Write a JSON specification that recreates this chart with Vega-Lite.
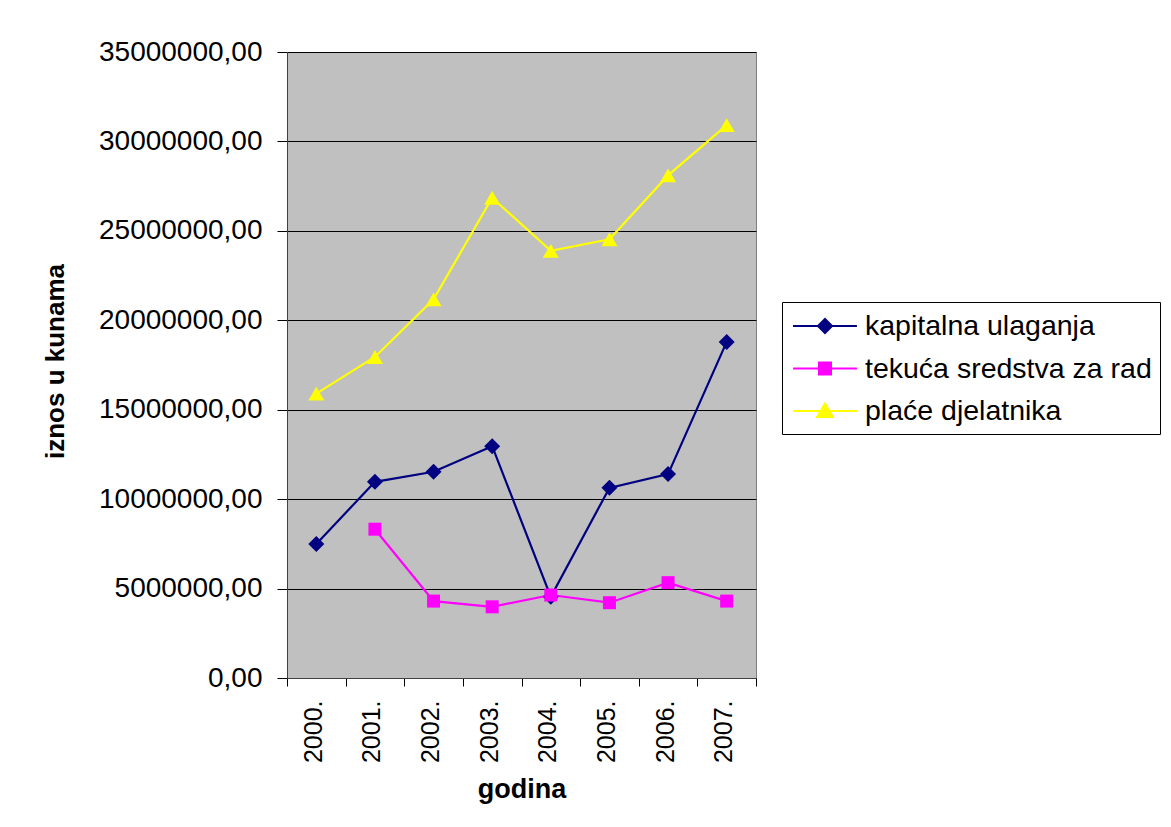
{
  "$schema": "https://vega.github.io/schema/vega-lite/v6.json",
  "width": 469,
  "height": 626,
  "autosize": "none",
  "padding": {"left": 287, "top": 52, "right": 415, "bottom": 149},
  "background": "white",
  "config": {
    "font": "Liberation Sans",
    "view": {"fill": "#C0C0C0", "stroke": "#808080", "strokeWidth": 1},
    "legend": {
      "orient": "none",
      "legendX": 495,
      "legendY": 250,
      "padding": 8,
      "symbolOffset": 19,
      "labelOffset": 24,
      "rowPadding": 11.5,
      "strokeColor": "black",
      "fillColor": "white",
      "labelFontSize": 28.5,
      "labelColor": "black",
      "labelLimit": 500,
      "symbolSize": 900,
      "symbolStrokeWidth": 2,
      "symbolOpacity": 1
    }
  },
  "data": {
    "values": [
      {"godina": "2000.", "serija": "kapitalna ulaganja", "iznos": 7490000},
      {"godina": "2001.", "serija": "kapitalna ulaganja", "iznos": 10970000},
      {"godina": "2002.", "serija": "kapitalna ulaganja", "iznos": 11530000},
      {"godina": "2003.", "serija": "kapitalna ulaganja", "iznos": 12960000},
      {"godina": "2004.", "serija": "kapitalna ulaganja", "iznos": 4540000},
      {"godina": "2005.", "serija": "kapitalna ulaganja", "iznos": 10630000},
      {"godina": "2006.", "serija": "kapitalna ulaganja", "iznos": 11400000},
      {"godina": "2007.", "serija": "kapitalna ulaganja", "iznos": 18790000},
      {"godina": "2001.", "serija": "tekuća sredstva za rad", "iznos": 8320000},
      {"godina": "2002.", "serija": "tekuća sredstva za rad", "iznos": 4300000},
      {"godina": "2003.", "serija": "tekuća sredstva za rad", "iznos": 3980000},
      {"godina": "2004.", "serija": "tekuća sredstva za rad", "iznos": 4640000},
      {"godina": "2005.", "serija": "tekuća sredstva za rad", "iznos": 4210000},
      {"godina": "2006.", "serija": "tekuća sredstva za rad", "iznos": 5330000},
      {"godina": "2007.", "serija": "tekuća sredstva za rad", "iznos": 4300000},
      {"godina": "2000.", "serija": "plaće djelatnika", "iznos": 15900000},
      {"godina": "2001.", "serija": "plaće djelatnika", "iznos": 17950000},
      {"godina": "2002.", "serija": "plaće djelatnika", "iznos": 21170000},
      {"godina": "2003.", "serija": "plaće djelatnika", "iznos": 26850000},
      {"godina": "2004.", "serija": "plaće djelatnika", "iznos": 23880000},
      {"godina": "2005.", "serija": "plaće djelatnika", "iznos": 24530000},
      {"godina": "2006.", "serija": "plaće djelatnika", "iznos": 28100000},
      {"godina": "2007.", "serija": "plaće djelatnika", "iznos": 30910000}
    ]
  },
  "encoding": {
    "x": {
      "field": "godina",
      "type": "ordinal",
      "scale": {"type": "band", "paddingInner": 0, "paddingOuter": 0},
      "axis": {
        "title": "godina",
        "titleFontSize": 27,
        "titleFontWeight": "bold",
        "titleColor": "black",
        "titleX": 234.5,
        "titleY": 119,
        "titleAlign": "center",
        "titleBaseline": "alphabetic",
        "labelAngle": 270,
        "labelAlign": "right",
        "labelBaseline": "middle",
        "labelFontSize": 25,
        "labelColor": "black",
        "labelPadding": 14,
        "labelOffset": -3,
        "tickBand": "extent",
        "tickSize": 8,
        "tickColor": "black",
        "domainColor": "#404040",
        "grid": false
      }
    },
    "y": {
      "field": "iznos",
      "type": "quantitative",
      "scale": {"domain": [0, 35000000], "nice": false, "zero": true},
      "axis": {
        "title": "iznos u kunama",
        "titleFontSize": 26,
        "titleFontWeight": "bold",
        "titleColor": "black",
        "titleX": -224,
        "titleY": 309,
        "titleAlign": "center",
        "titleBaseline": "alphabetic",
        "titleAngle": 270,
        "values": [0, 5000000, 10000000, 15000000, 20000000, 25000000, 30000000, 35000000],
        "labelExpr": "replace(format(datum.value, '.2f'), '.', ',')",
        "labelFontSize": 28,
        "labelColor": "black",
        "labelPadding": 15,
        "tickSize": 10,
        "tickColor": "black",
        "domainColor": "#404040",
        "grid": true,
        "gridColor": "black",
        "gridWidth": 1,
        "gridOpacity": 1
      }
    }
  },
  "layer": [
    {
      "mark": {"type": "line", "strokeWidth": 2.2},
      "encoding": {
        "color": {
          "field": "serija",
          "type": "nominal",
          "scale": {"range": ["#000080", "#FFFF00", "#FF00FF"]},
          "legend": null
        }
      }
    },
    {
      "transform": [{"filter": "datum.serija === 'kapitalna ulaganja'"}],
      "mark": {"type": "point", "filled": true, "opacity": 1, "shape": "diamond", "size": 256},
      "encoding": {
        "color": {"field": "serija", "type": "nominal", "legend": null}
      }
    },
    {
      "transform": [{"filter": "datum.serija === 'tekuća sredstva za rad'"}],
      "mark": {"type": "point", "filled": true, "opacity": 1, "shape": "square", "size": 169},
      "encoding": {
        "color": {"field": "serija", "type": "nominal", "legend": null}
      }
    },
    {
      "transform": [{"filter": "datum.serija === 'plaće djelatnika'"}],
      "mark": {"type": "point", "filled": true, "opacity": 1, "shape": "triangle-up", "size": 256},
      "encoding": {
        "color": {"field": "serija", "type": "nominal", "legend": null}
      }
    },
    {
      "mark": {"type": "point", "filled": true, "opacity": 0, "strokeWidth": 2},
      "encoding": {
        "fill": {
          "field": "serija",
          "type": "nominal",
          "scale": {"domain": ["kapitalna ulaganja", "tekuća sredstva za rad", "plaće djelatnika"], "range": ["#000080", "#FF00FF", "#FFFF00"]},
          "legend": {"title": null}
        },
        "stroke": {
          "field": "serija",
          "type": "nominal",
          "scale": {"domain": ["kapitalna ulaganja", "tekuća sredstva za rad", "plaće djelatnika"], "range": ["#000080", "#FF00FF", "#FFFF00"]},
          "legend": {"title": null}
        },
        "shape": {
          "field": "serija",
          "type": "nominal",
          "scale": {
            "domain": ["kapitalna ulaganja", "tekuća sredstva za rad", "plaće djelatnika"],
            "range": [
              "M-2.13,0H2.13M0,-0.47L0.47,0L0,0.47L-0.47,0Z",
              "M-2.13,0H2.13M-0.4,-0.4H0.4V0.4H-0.4Z",
              "M-2.13,0H2.13M0,-0.5L0.52,0.4H-0.52Z"
            ]
          },
          "legend": {"title": null}
        }
      }
    }
  ]
}
